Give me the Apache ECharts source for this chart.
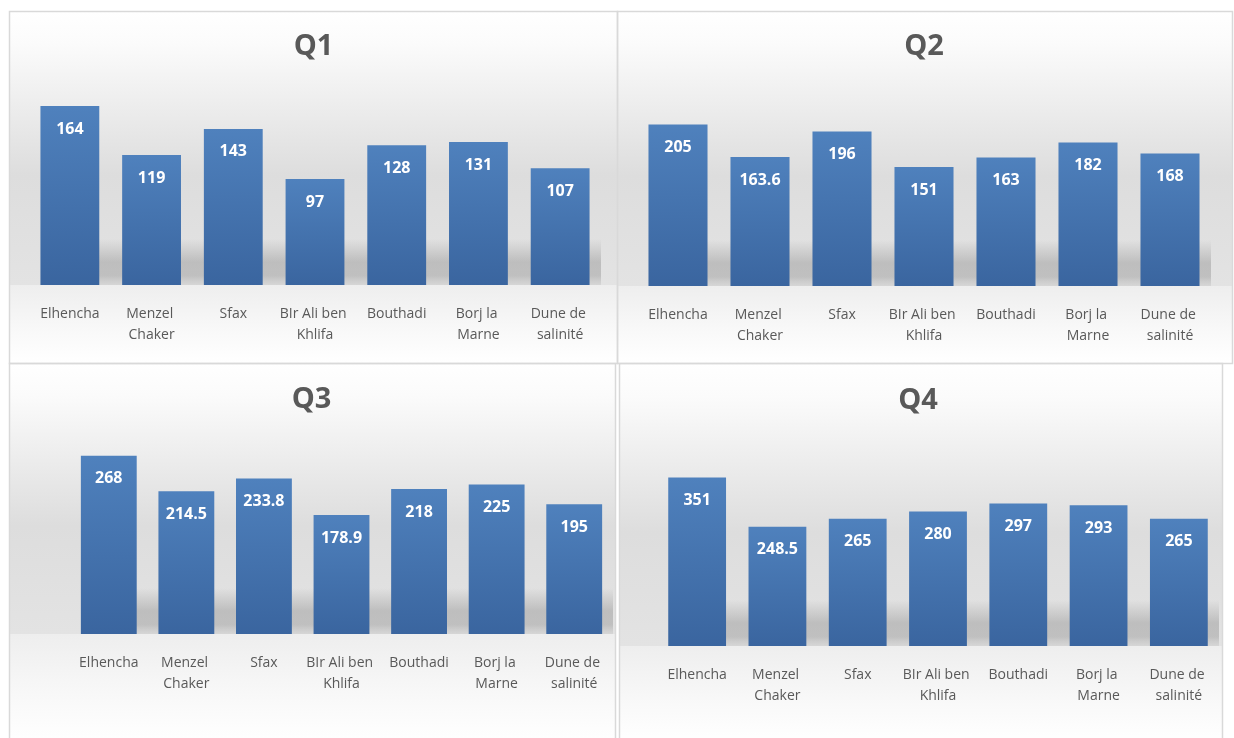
<!DOCTYPE html>
<html>
<head>
<meta charset="utf-8">
<script src="https://cdn.jsdelivr.net/npm/echarts@6/dist/echarts.min.js"></script>
<style>
html,body{margin:0;padding:0;background:#fff;}
#c{width:1234px;height:738px;}
</style>
</head>
<body>
<div id="c"></div>
<script>
// ---- data ----
const categories = ["Elhencha", "Menzel Chaker", "Sfax", "BIr Ali ben Khlifa", "Bouthadi", "Borj la Marne", "Dune de salinité"];
const titles = ["Q1", "Q2", "Q3", "Q4"];
const q1 = [164, 119, 143, 97, 128, 131, 107];
const q2 = [205, 163.6, 196, 151, 163, 182, 168];
const q3 = [268, 214.5, 233.8, 178.9, 218, 225, 195];
const q4 = [351, 248.5, 265, 280, 297, 293, 265];
const axisMax = [180, 250, 300, 400];
const seriesData = [q1, q2, q3, q4];

// ---- layout (pixels) ----
const panels = [
  {x:9,   y:11,  w:608, h:352, gl:29,  gw:572, gt:88.5, gb:285, tx:313.5, ty:46},
  {x:617, y:11,  w:615, h:352, gl:637, gw:574, gt:89,   gb:286, tx:924,   ty:46},
  {x:9,   y:363, w:606, h:380, gl:70,  gw:543, gt:434.5,gb:634, tx:311.5, ty:399},
  {x:619, y:363, w:603, h:380, gl:657, gw:562, gt:454,  gb:646, tx:918,   ty:400}
];

const FONT = "'Open Sans', 'Noto Sans', sans-serif";
const chart = echarts.init(document.getElementById('c'), null, {renderer:'canvas'});

const graphic = [];
const grid = [], xAxis = [], yAxis = [], series = [], title = [];

panels.forEach((p, i) => {
  const wallH = p.gb - p.y;
  // wall
  graphic.push({
    type:'rect', z:-10, silent:true,
    shape:{x:p.x, y:p.y, width:p.w, height:wallH},
    style:{fill:new echarts.graphic.LinearGradient(0,0,0,1,[
      {offset:0, color:'#ffffff'},
      {offset:0.12, color:'#fbfbfb'},
      {offset:0.6, color:'#dddddd'},
      {offset:1, color:'#e3e3e3'}
    ])}
  });
  // floor
  graphic.push({
    type:'rect', z:-10, silent:true,
    shape:{x:p.x, y:p.gb, width:p.w, height:p.y + p.h - p.gb},
    style:{fill:new echarts.graphic.LinearGradient(0,0,0,1,[
      {offset:0, color:'#eeeeee'},
      {offset:0.6, color:'#f9f9f9'},
      {offset:1, color:'#ffffff'}
    ])}
  });
  // floor shadow band behind bars
  graphic.push({
    type:'rect', z:-9, silent:true,
    shape:{x:p.gl + 14, y:p.gb - 46, width:p.gw - 14, height:46},
    style:{fill:new echarts.graphic.LinearGradient(0,0,0,1,[
      {offset:0, color:'rgba(140,140,140,0)'},
      {offset:0.5, color:'rgba(140,140,140,0.42)'},
      {offset:0.8, color:'rgba(150,150,150,0.45)'},
      {offset:1, color:'rgba(175,175,175,0.25)'}
    ])}
  });
  // border
  graphic.push({
    type:'rect', z:-8, silent:true,
    shape:{x:p.x + 0.5, y:p.y + 0.5, width:p.w, height:p.h},
    style:{fill:'none', stroke:'#d9d9d9', lineWidth:1.5}
  });

  title.push({
    text: titles[i],
    left: p.tx, top: p.ty - 14, textAlign:'center', padding:0,
    textStyle:{fontFamily:FONT, fontSize:29, fontWeight:'bold', color:'#595959'}
  });

  grid.push({left:p.gl, width:p.gw, top:p.gt, height:p.gb - p.gt, containLabel:false});
  xAxis.push({
    type:'category', gridIndex:i, data:categories,
    axisLine:{show:false}, axisTick:{show:false}, splitLine:{show:false},
    axisLabel:{
      interval:0, margin:19, color:'#595959', fontFamily:FONT, fontSize:14,
      lineHeight:21, width:76, overflow:'break'
    }
  });
  yAxis.push({
    type:'value', gridIndex:i, min:0, max:axisMax[i], show:false,
    splitLine:{show:false}
  });
  series.push({
    type:'bar', xAxisIndex:i, yAxisIndex:i, data:seriesData[i],
    barCategoryGap:'28%',
    itemStyle:{color:new echarts.graphic.LinearGradient(0,0,0,1,[
      {offset:0, color:'#4f81bd'},
      {offset:1, color:'#3a659f'}
    ])},
    label:{
      show:true, position:'insideTop', distance:15,
      color:'#ffffff', fontFamily:FONT, fontSize:16, fontWeight:'bold'
    },
    silent:true
  });
});

chart.setOption({
  backgroundColor:'#ffffff',
  animation:false,
  graphic: graphic,
  title: title,
  grid: grid,
  xAxis: xAxis,
  yAxis: yAxis,
  series: series
});
</script>
</body>
</html>
